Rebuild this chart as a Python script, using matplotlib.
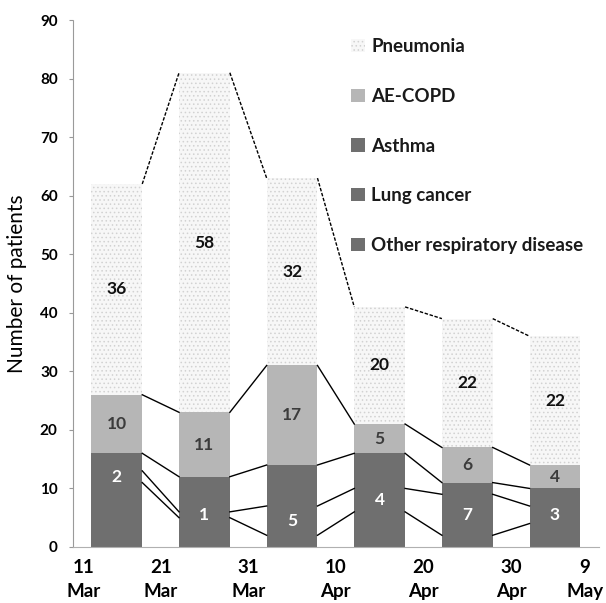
import matplotlib.pyplot as plt
import numpy as np

# Patients per 10-day period, stacked from the bottom up
periods = ["11-20 Mar", "21-30 Mar", "31 Mar-9 Apr", "10-19 Apr", "20-29 Apr", "30 Apr-9 May"]
tick_labels = ["11\nMar", "21\nMar", "31\nMar", "10\nApr", "20\nApr", "30\nApr", "9\nMay"]

other_resp = [11, 5, 2, 6, 2, 4]
lung_cancer = [2, 1, 5, 4, 7, 3]
asthma = [3, 6, 7, 6, 2, 3]
ae_copd = [10, 11, 17, 5, 6, 4]
pneumonia = [36, 58, 32, 20, 22, 22]

plt.rcParams['font.family'] = ['Lato', 'DejaVu Sans']
plt.rcParams['hatch.linewidth'] = 0.6

fig = plt.figure(figsize=(6.06, 6.03), dpi=100)
ax = fig.add_axes([0.1205, 0.0929, 0.8675, 0.8739])

x = np.arange(len(periods))
w = 0.58

series = [
    ("Other respiratory disease", other_resp, "#6f6f6f", None, None),
    ("Lung cancer", lung_cancer, "#6f6f6f", None, "white"),
    ("Asthma", asthma, "#6f6f6f", None, None),
    ("AE-COPD", ae_copd, "#b6b6b6", None, "#3c3c3c"),
    ("Pneumonia", pneumonia, "#f7f7f7", "....", "#111111"),
]

bottom = np.zeros(len(periods))
handles = {}
tops = []
for name, vals, color, hatch, lab_color in series:
    vals = np.array(vals, dtype=float)
    bars = ax.bar(x, vals, w, bottom=bottom, color=color, hatch=hatch,
                  edgecolor="#d2d2d2" if hatch else color, linewidth=0, zorder=2)
    handles[name] = bars
    if lab_color:
        for xi, b, v in zip(x, bottom, vals):
            ax.text(xi, b + v / 2, f"{int(v)}", ha="center", va="center",
                    fontsize=12.5, fontweight="bold", color=lab_color, zorder=4)
    bottom = bottom + vals
    tops.append(bottom.copy())

# Series lines joining the segment tops of neighbouring columns
for k, level in enumerate(tops):
    ls = (0, (2.5, 1.2)) if k == len(tops) - 1 else "-"
    for i in range(len(periods) - 1):
        ax.plot([x[i] + w / 2, x[i + 1] - w / 2], [level[i], level[i + 1]],
                color="black", lw=1.0, ls=ls, zorder=3)

ax.set_xlim(-0.5, 5.5)
ax.set_ylim(0, 90)
ax.set_yticks(np.arange(0, 91, 10))
# date labels sit on the period boundaries; the outer two are pulled inward
tick_pos = np.arange(len(tick_labels)) - 0.5
tick_pos[0] += 0.12
tick_pos[-1] -= 0.16
ax.set_xticks(tick_pos)
ax.set_xticklabels(tick_labels, fontsize=13.5, fontweight="bold", linespacing=1.45)
ax.tick_params(axis="x", length=0, pad=9)
ax.tick_params(axis="y", length=3, color="#999999", labelsize=11, pad=8)
for t in ax.get_yticklabels():
    t.set_fontweight("bold")

for side in ["top", "right"]:
    ax.spines[side].set_visible(False)
ax.spines["left"].set_linestyle((0, (1.5, 1)))
ax.spines["left"].set_color("#9a9a9a")
ax.spines["left"].set_linewidth(0.8)
ax.spines["bottom"].set_linestyle((0, (1.5, 1)))
ax.spines["bottom"].set_color("#b0b0b0")
ax.spines["bottom"].set_linewidth(0.8)

ax.set_ylabel("Number of patients", fontsize=15, labelpad=9)

order = ["Pneumonia", "AE-COPD", "Asthma", "Lung cancer", "Other respiratory disease"]
leg = fig.legend([handles[n] for n in order], order, loc="upper left",
                 bbox_to_anchor=(0.552, 0.965), frameon=False,
                 prop={"size": 13.5, "weight": "bold"},
                 handlelength=0.7, handleheight=0.7, handletextpad=0.35,
                 labelspacing=1.75)
for t in leg.get_texts():
    t.set_color("#1a1a1a")

fig.savefig("out.png", dpi=100)
